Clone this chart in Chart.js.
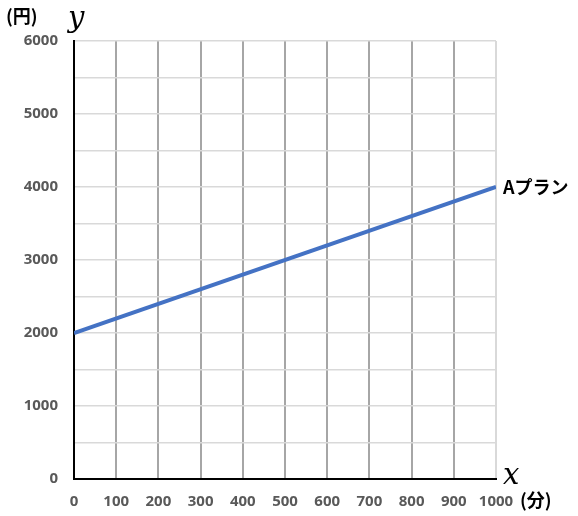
<!DOCTYPE html>
<html>
<head>
<meta charset="utf-8">
<script src="https://cdn.jsdelivr.net/npm/chart.js@4"></script>
<style>
  html, body { margin: 0; padding: 0; background: #fff; }
  #wrap { width: 578px; height: 516px; }
</style>
</head>
<body>
<div id="wrap"><canvas id="planChart" width="578" height="516"></canvas></div>
<script>
// values
const minutes = [0, 1000];        // x (分)
const planA = [2000, 4000];       // y (円)
const seriesName = 'Aプラン';
const xMax = 1000, xStep = 100;
const yMax = 6000, yStep = 500, yLabelStep = 1000;

const tickFont = { family: 'Noto Sans', size: 15, weight: 'bold' };

// extra labels: unit marks, axis letters, series name at the line end
const labelPlugin = {
  id: 'labels',
  afterDraw(chart) {
    const ctx = chart.ctx;
    const xs = chart.scales.x, ys = chart.scales.y;
    ctx.save();
    ctx.fillStyle = '#000';
    ctx.textBaseline = 'middle';
    ctx.font = 'bold 18px "Noto Sans CJK JP"';
    ctx.textAlign = 'left';
    ctx.fillText('(円)', 6, 16);
    ctx.fillText('(分)', 520, 500);

    ctx.font = 'italic 29px "DejaVu Serif"';
    ctx.fillText('y', 68, 19);
    ctx.fillText('x', 503, 476);

    // series name next to the last point
    const last = planA.length - 1;
    ctx.font = 'bold 18px "Noto Sans CJK JP"';
    ctx.fillText(seriesName, xs.getPixelForValue(minutes[last]) + 7, ys.getPixelForValue(planA[last]));
    ctx.restore();
  }
};

new Chart(document.getElementById('planChart'), {
  type: 'line',
  data: {
    labels: minutes,
    datasets: [{
      label: seriesName,
      data: minutes.map((m, i) => ({ x: m, y: planA[i] })),
      borderColor: '#4472C4',
      borderWidth: 4,
      pointRadius: 0,
      fill: false
    }]
  },
  options: {
    responsive: false,
    animation: false,
    layout: { padding: { top: 41, right: 82, left: 0, bottom: 0 } },
    plugins: { legend: { display: false }, tooltip: { enabled: false } },
    scales: {
      x: {
        type: 'linear',
        min: 0, max: xMax,
        afterFit(scale) { scale.height = 516 - 479; },
        border: { color: '#000', width: 2 },
        grid: {
          drawTicks: false,
          color: (c) => c.tick && c.tick.value === xMax ? '#D9D9D9' : '#A6A6A6',
          lineWidth: 2
        },
        ticks: {
          stepSize: xStep,
          padding: 14,
          color: '#595959',
          font: tickFont,
          maxRotation: 0,
          callback: (v) => String(v)
        }
      },
      y: {
        min: 0, max: yMax,
        afterFit(scale) { scale.width = 74; },
        border: { color: '#000', width: 2 },
        grid: { drawTicks: false, color: '#D9D9D9', lineWidth: 1.5 },
        ticks: {
          stepSize: yStep,
          padding: 16,
          color: '#595959',
          font: tickFont,
          callback: (v) => v % yLabelStep === 0 ? String(v) : ''
        }
      }
    }
  },
  plugins: [labelPlugin]
});
</script>
</body>
</html>
